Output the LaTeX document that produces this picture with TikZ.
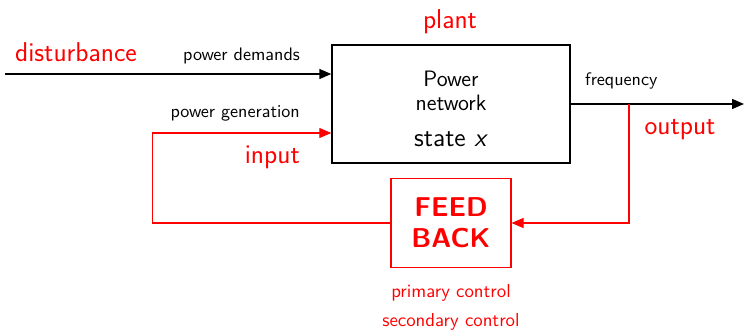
\documentclass[tikz,border=0pt]{standalone}
\usepackage{amsmath}
\usepackage{xcolor}
\usepackage{tikz}
\usetikzlibrary{arrows.meta,positioning,calc}

\begin{document}
\begin{tikzpicture}[
  font=\sffamily,
  box/.style={draw, thick, minimum width=47.6mm, minimum height=23.6mm},
  boxtext/.style={align=center, font=\sffamily\fontsize{12.7}{13.7}\selectfont},
  fbbox/.style={draw=red, semithick, minimum width=24mm, minimum height=17.8mm, align=center, text=red, font=\sffamily\bfseries\fontsize{15.5}{17.5}\selectfont},
  lbl/.style={font=\sffamily\fontsize{10.3}{12}\selectfont},
  tag/.style={text=red, font=\sffamily\fontsize{15.5}{17}\selectfont},
  note/.style={text=red, font=\sffamily\fontsize{10.7}{12}\selectfont},
  arr/.style={-{Triangle[length=2.4mm, width=2mm]}, thick},
  fbarr/.style={-{Triangle[length=2.4mm, width=2mm]}, red, semithick}]
\useasboundingbox (0,0) rectangle (14.9,6.62);
\node[box] (plant) at (9.02,4.54) {};
\node[boxtext] (planttxt) at ($(plant)+(0,-0.1)$) {Power\\network\\[7pt]{\fontsize{14.8}{16}\selectfont state \textit{x}}};
\node[fbbox] (fb) at (9.02,2.16) {FEED\\BACK};
\node[tag] (plantlbl) at (9.0,6.18) {plant};
\node[tag] (dist) at (1.52,5.58) {disturbance};
\node[tag, anchor=east] (inlbl) at (6.12,3.48) {input};
\node[tag] (outlbl) at (13.6,4.03) {output};
\node[lbl, anchor=east] (demlbl) at (6.12,5.5) {power demands};
\node[lbl, anchor=east] (genlbl) at (6.12,4.36) {power generation};
\node[lbl, anchor=west] (freqlbl) at (11.58,5.0) {frequency};
\node[note] (prim) at (9.02,0.76) {primary control};
\node[note] (sec) at (9.02,0.18) {secondary control};
\coordinate (src) at (0.1,5.14);
\coordinate (dem) at ($(plant.west)+(0,0.6)$);
\coordinate (gen) at ($(plant.west)+(0,-0.58)$);
\coordinate (sink) at (14.88,4.54);
\coordinate (tap) at (12.58,4.54);
% disturbance in, frequency out
\draw[arr] (src) -- (dem);
\draw[arr] (plant.east) -- (sink);
% feedback loop
\draw[fbarr] (tap) |- (fb.east);
\draw[fbarr] (fb.west) -| ($(gen)+(-3.58,0)$) -- (gen);
\end{tikzpicture}
\end{document}
